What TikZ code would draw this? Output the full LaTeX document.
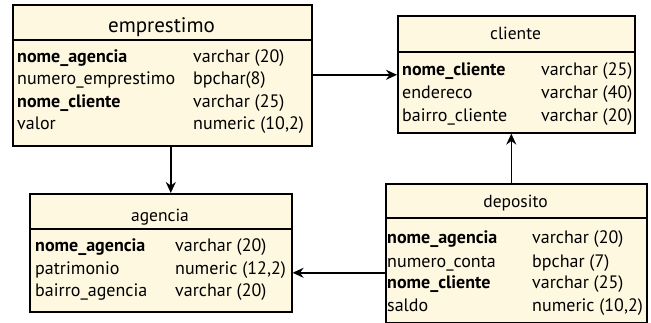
\documentclass[tikz,border=0pt]{standalone}
\usepackage{fontspec}
\setmainfont{PT Sans}
\usetikzlibrary{arrows.meta}
\definecolor{boxfill}{HTML}{FEF8E0}
\tikzset{
  tbl/.style={draw=black, fill=boxfill, line width=1.6pt, inner sep=0pt, anchor=north west},
  ttl/.style={font=\fontsize{17.5}{19}\selectfont, inner sep=0pt, anchor=base},
  bigttl/.style={font=\fontsize{21}{23}\selectfont, inner sep=0pt, anchor=base},
  fld/.style={font=\fontsize{18}{20}\selectfont, inner sep=0pt, anchor=base west},
  key/.style={fld, font=\fontsize{18}{20}\selectfont\bfseries},
  sep/.style={line width=1.6pt},
  arr/.style={line width=1.6pt, -{Stealth[length=11pt,width=10pt]}}
}
\begin{document}
\begin{tikzpicture}[x=1pt,y=-1pt]
\useasboundingbox (0,0) rectangle (651,323);
% emprestimo
\node[tbl, minimum width=299pt, minimum height=141pt] (emp) at (12,4) {};
\draw[sep] (12,40) -- (311,40);
\node[bigttl] (empT) at (161.5,33) {emprestimo};
\node[key] (e1a) at (17,63) {nome\_agencia};
\node[fld] (e1b) at (193,63) {varchar (20)};
\node[fld] (e2a) at (17,85) {numero\_emprestimo};
\node[fld] (e2b) at (193,85) {bpchar(8)};
\node[key] (e3a) at (17,108) {nome\_cliente};
\node[fld] (e3b) at (193,108) {varchar (25)};
\node[fld] (e4a) at (17,130) {valor};
\node[fld] (e4b) at (193,130) {numeric (10,2)};
% cliente
\node[tbl, minimum width=237pt, minimum height=117pt] (cli) at (397,15) {};
\draw[sep] (397,52) -- (634,52);
\node[ttl] (cliT) at (515.5,40) {cliente};
\node[key] (c1a) at (402,76) {nome\_cliente};
\node[fld] (c1b) at (541,76) {varchar (25)};
\node[fld] (c2a) at (402,99) {endereco};
\node[fld] (c2b) at (541,99) {varchar (40)};
\node[fld] (c3a) at (402,122) {bairro\_cliente};
\node[fld] (c3b) at (541,122) {varchar (20)};
% agencia
\node[tbl, minimum width=262pt, minimum height=118pt] (agn) at (29,193) {};
\draw[sep] (29,229) -- (291,229);
\node[ttl] (agnT) at (160,222) {agencia};
\node[key] (a1a) at (35,252) {nome\_agencia};
\node[fld] (a1b) at (175,252) {varchar (20)};
\node[fld] (a2a) at (35,275) {patrimonio};
\node[fld] (a2b) at (175,275) {numeric (12,2)};
\node[fld] (a3a) at (35,297) {bairro\_agencia};
\node[fld] (a3b) at (175,297) {varchar (20)};
% deposito
\node[tbl, minimum width=261pt, minimum height=139pt] (dep) at (385,183) {};
\draw[sep] (385,218) -- (646,218);
\node[ttl] (depT) at (515.5,208) {deposito};
\node[key] (d1a) at (387,244) {nome\_agencia};
\node[fld] (d1b) at (532,244) {varchar (20)};
\node[fld] (d2a) at (387,268) {numero\_conta};
\node[fld] (d2b) at (532,268) {bpchar (7)};
\node[key] (d3a) at (387,289) {nome\_cliente};
\node[fld] (d3b) at (532,289) {varchar (25)};
\node[fld] (d4a) at (387,312) {saldo};
\node[fld] (d4b) at (532,312) {numeric (10,2)};
% connectors
\draw[arr] ([yshift=0.5pt]emp.east) -- ([yshift=0.5pt]emp.east -| cli.west);
\draw[arr] ([xshift=8.5pt]emp.south) -- ([xshift=8.5pt]emp.south |- agn.north);
\draw[arr] ([xshift=-5pt]dep.north) -- ([xshift=-5pt]dep.north |- cli.south);
\draw[arr] ([yshift=-19.5pt]dep.west) -- ([yshift=-19.5pt]dep.west -| agn.east);
\end{tikzpicture}
\end{document}
